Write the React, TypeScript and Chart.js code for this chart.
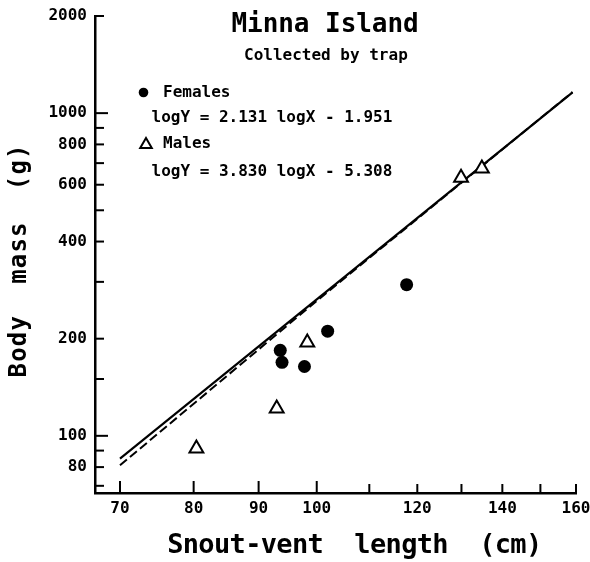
import React, { useEffect, useRef } from 'react';
import { Chart, registerables } from 'chart.js';

Chart.register(...registerables);

// ---- data ----
const femaleLength = [93.6, 93.9, 97.8, 102.0, 117.7];
const femaleMass = [184, 169, 164, 211, 294];
const maleLength = [80.4, 93.0, 98.3, 129.9, 134.9];
const maleMass = [91.3, 121.5, 194.5, 631, 674];
const solidFitLength = [70, 159];
const solidFitMass = [85, 1160];
const dashedFitLength = [70, 100, 159];
const dashedFitMass = [81, 262, 1162];

const xTickValues = [70, 80, 90, 100, 110, 120, 130, 140, 150, 160];
const xLabeled = [70, 80, 90, 100, 120, 140, 160];
const yTickValues = [70, 80, 90, 100, 150, 200, 300, 400, 500, 600, 700, 800, 900, 1000, 2000];
const yLabeled = [80, 100, 200, 400, 600, 800, 1000, 2000];

const titleText = 'Minna Island';
const subtitleText = 'Collected by trap';
const legendLabels = ['Females', 'Males'];
const legendEquations = ['logY = 2.131 logX - 1.951', 'logY = 3.830 logX - 5.308'];
const xTitle = 'Snout-vent  length  (cm)';
const yTitle = 'Body  mass  (g)';

const MONO = '"DejaVu Sans Mono", "Liberation Mono", monospace';

function drawSpaced(ctx: CanvasRenderingContext2D, text: string, x: number, y: number, pitch: number, font: string, rotate = false) {
  ctx.save();
  ctx.translate(x, y);
  if (rotate) ctx.rotate(-Math.PI / 2);
  ctx.font = font;
  ctx.textAlign = 'center';
  ctx.textBaseline = 'alphabetic';
  for (let i = 0; i < text.length; i++) {
    const ch = text[i];
    if (ch !== ' ') ctx.fillText(ch, i * pitch + pitch / 2, 0);
  }
  ctx.restore();
}

const decorPlugin = {
  id: 'decor',
  afterDraw(chart: any) {
    const ctx: CanvasRenderingContext2D = chart.ctx;
    const xs = chart.scales.x;
    const ys = chart.scales.y;
    const area = chart.chartArea;
    ctx.save();
    ctx.strokeStyle = '#000';
    ctx.fillStyle = '#000';
    ctx.lineWidth = 2;
    // inward tick marks
    for (const v of yTickValues) {
      const py = ys.getPixelForValue(v);
      const len = v === 100 || v === 1000 ? 13 : 9;
      ctx.beginPath();
      ctx.moveTo(area.left, py);
      ctx.lineTo(area.left + len, py);
      ctx.stroke();
    }
    for (const v of xTickValues) {
      const px = xs.getPixelForValue(v);
      const len = v <= 100 ? 12 : 9;
      ctx.beginPath();
      ctx.moveTo(px, area.bottom);
      ctx.lineTo(px, area.bottom - len);
      ctx.stroke();
    }

    // title + subtitle
    drawSpaced(ctx, titleText, 231.5, 32, 15.6, `bold 26px ${MONO}`);
    ctx.font = `bold 16px ${MONO}`;
    ctx.textAlign = 'left';
    ctx.textBaseline = 'alphabetic';
    ctx.fillText(subtitleText, 244, 59.5);

    // legend
    ctx.beginPath();
    ctx.arc(143.5, 92.5, 4.8, 0, Math.PI * 2);
    ctx.fill();
    ctx.fillText(legendLabels[0], 163, 97);
    ctx.fillText(legendEquations[0], 151.5, 122);

    const cx = 146, cy = 144.7, r = 6.7;
    ctx.beginPath();
    ctx.moveTo(cx, cy - r);
    ctx.lineTo(cx + r * Math.sin((2 * Math.PI) / 3), cy + r / 2);
    ctx.lineTo(cx - r * Math.sin((2 * Math.PI) / 3), cy + r / 2);
    ctx.closePath();
    ctx.fillStyle = '#fff';
    ctx.fill();
    ctx.lineWidth = 2;
    ctx.stroke();
    ctx.fillStyle = '#000';
    ctx.fillText(legendLabels[1], 163, 148);
    ctx.fillText(legendEquations[1], 151.5, 176);

    // axis titles
    drawSpaced(ctx, xTitle, 167.5, 553, 15.6, `bold 27px ${MONO}`);
    drawSpaced(ctx, yTitle, 26, 378, 15.6, `bold 24px ${MONO}`, true);
    ctx.restore();
  },
};

export default function App() {
  const ref = useRef<HTMLCanvasElement | null>(null);
  useEffect(() => {
    if (!ref.current) return;
    const tickFont = { family: MONO, size: 16, weight: 'bold' as const };
    const chart = new Chart(ref.current, {
      type: 'scatter',
      data: {
        datasets: [
          {
            label: 'Females',
            data: femaleLength.map((x, i) => ({ x, y: femaleMass[i] })),
            pointStyle: 'circle',
            pointRadius: 6.5,
            backgroundColor: '#000',
            borderColor: '#000',
            borderWidth: 0,
          },
          {
            label: 'Males',
            data: maleLength.map((x, i) => ({ x, y: maleMass[i] })),
            pointStyle: 'triangle',
            pointRadius: 8,
            backgroundColor: '#fff',
            borderColor: '#000',
            borderWidth: 2,
          },
          {
            label: 'Fit (solid)',
            data: solidFitLength.map((x, i) => ({ x, y: solidFitMass[i] })),
            showLine: true,
            pointRadius: 0,
            borderColor: '#000',
            borderWidth: 2.2,
            fill: false,
          },
          {
            label: 'Fit (dashed)',
            data: dashedFitLength.map((x, i) => ({ x, y: dashedFitMass[i] })),
            showLine: true,
            pointRadius: 0,
            borderColor: '#000',
            borderWidth: 2,
            borderDash: [9, 4],
            fill: false,
          },
        ],
      },
      options: {
        responsive: false,
        animation: false,
        events: [],
        layout: { padding: { left: 0, right: 14, top: 16, bottom: 0 } },
        plugins: {
          legend: { display: false },
          tooltip: { enabled: false },
          title: { display: false },
        },
        scales: {
          x: {
            type: 'logarithmic',
            position: 'bottom',
            min: 66.9,
            max: 160,
            afterFit: (s: any) => {
              s.height = 69;
              s.paddingLeft = 0;
              s.paddingRight = 0;
            },
            afterBuildTicks: (s: any) => {
              s.ticks = xTickValues.map((v) => ({ value: v }));
            },
            ticks: {
              autoSkip: false,
              maxRotation: 0,
              minRotation: 0,
              padding: 6,
              color: '#000',
              font: tickFont,
              callback: (v: any) => (xLabeled.includes(Number(v)) ? String(v) : ''),
            },
            grid: { display: true, drawOnChartArea: false, drawTicks: false },
            border: { display: true, color: '#000', width: 2.5 },
          },
          y: {
            type: 'logarithmic',
            position: 'left',
            min: 66.5,
            max: 2000,
            afterFit: (s: any) => {
              s.width = 95;
              s.paddingTop = 0;
              s.paddingBottom = 0;
            },
            afterBuildTicks: (s: any) => {
              s.ticks = yTickValues.map((v) => ({ value: v }));
            },
            ticks: {
              autoSkip: false,
              padding: 8,
              color: '#000',
              font: tickFont,
              callback: (v: any) => (yLabeled.includes(Number(v)) ? String(v) : ''),
            },
            grid: { display: true, drawOnChartArea: false, drawTicks: false },
            border: { display: true, color: '#000', width: 2.5 },
          },
        },
      } as any,
      plugins: [decorPlugin],
    });
    return () => chart.destroy();
  }, []);

  return (
    <div style={{ position: 'absolute', left: 0, top: 0, width: 590, height: 562, background: '#fff' }}>
      <canvas ref={ref} width={590} height={562} style={{ display: 'block', width: 590, height: 562 }} />
    </div>
  );
}
